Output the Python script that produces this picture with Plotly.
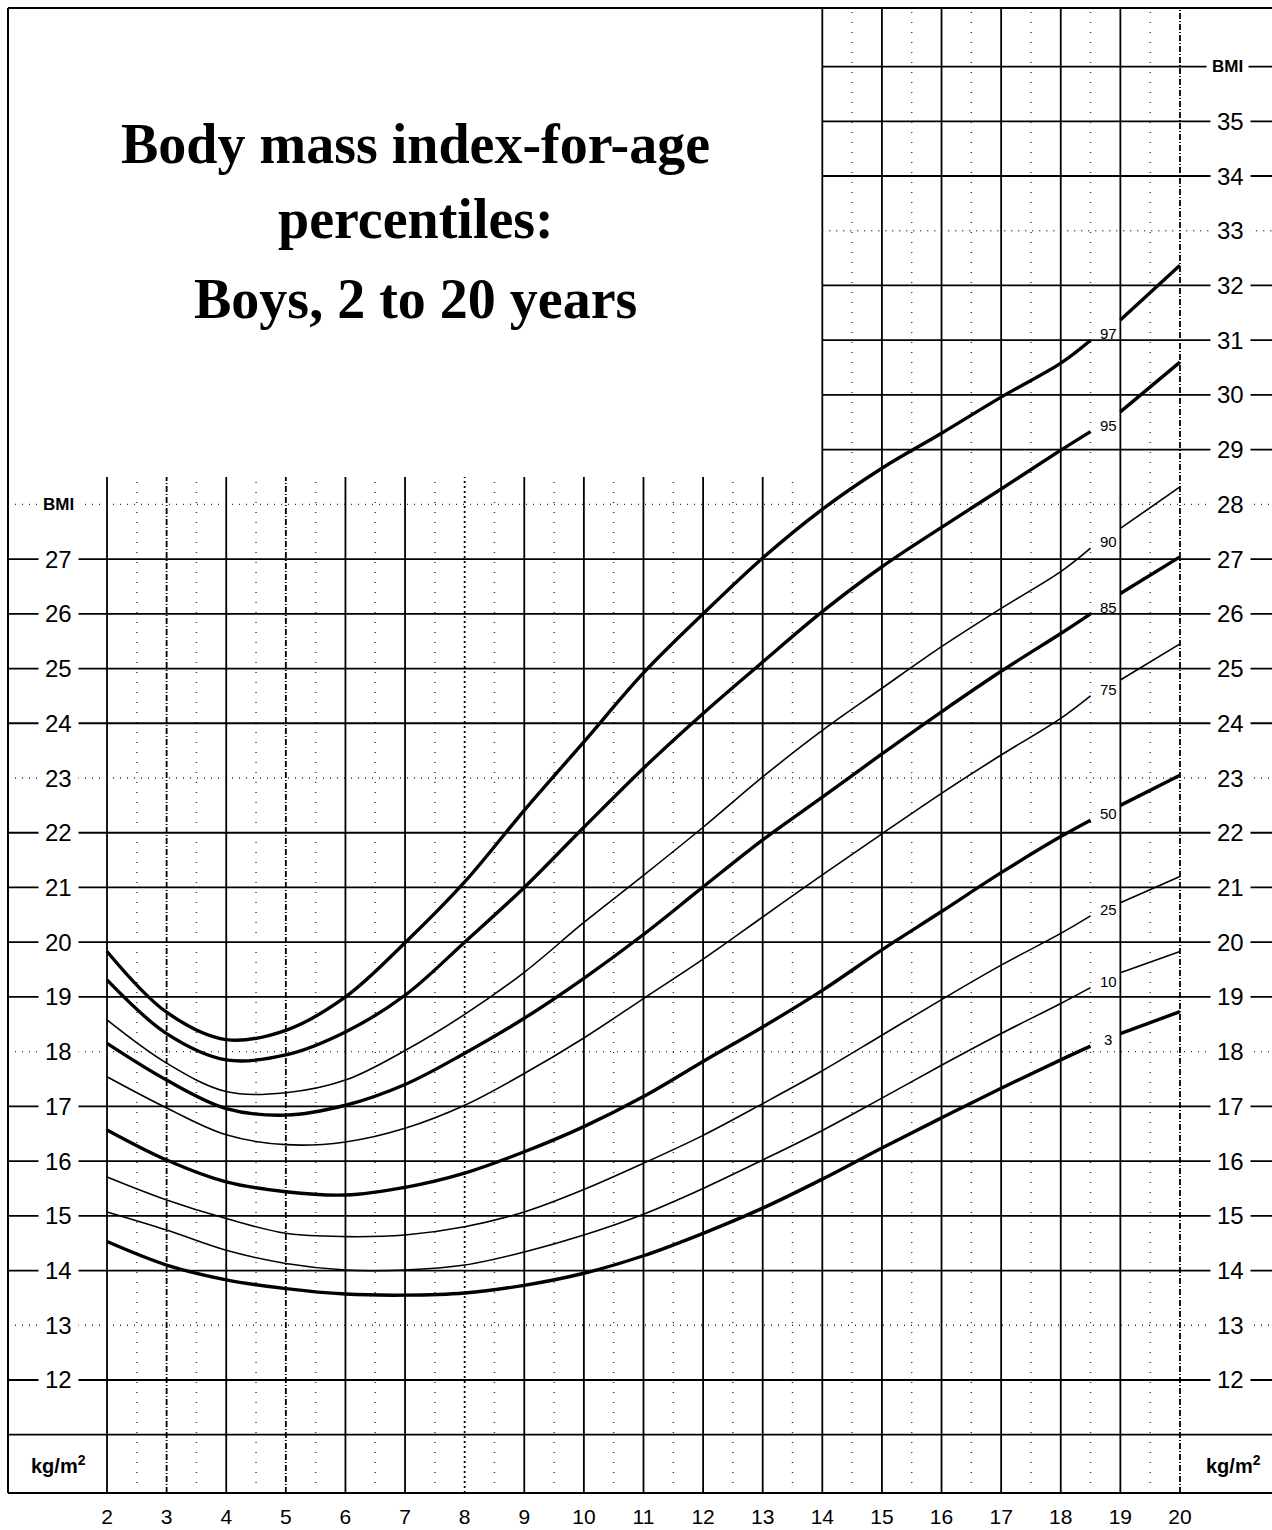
import plotly.graph_objects as go

# ---------------- data ----------------
ages = [2, 3, 4, 5, 6, 7, 8, 9, 10, 11, 12, 13, 14, 15, 16, 17, 18, 18.5]
ages_tail = [19, 20]

p97 = [19.83, 18.72, 18.22, 18.39, 19.00, 19.99, 21.10, 22.41, 23.66, 24.92, 26.00, 27.02, 27.91, 28.66, 29.30, 29.96, 30.58, 31.00]
p97_tail = [31.37, 32.37]
p95 = [19.31, 18.33, 17.85, 17.94, 18.36, 19.03, 20.00, 21.00, 22.10, 23.18, 24.18, 25.12, 26.04, 26.86, 27.58, 28.28, 28.99, 29.33]
p95_tail = [29.69, 30.60]
p90 = [18.58, 17.79, 17.27, 17.25, 17.48, 18.02, 18.68, 19.45, 20.36, 21.22, 22.10, 23.02, 23.87, 24.64, 25.40, 26.10, 26.77, 27.20]
p90_tail = [27.56, 28.32]
p85 = [18.15, 17.48, 16.96, 16.84, 17.02, 17.40, 17.97, 18.61, 19.34, 20.14, 21.01, 21.87, 22.65, 23.44, 24.21, 24.95, 25.64, 26.00]
p85_tail = [26.37, 27.04]
p75 = [17.54, 16.97, 16.48, 16.30, 16.35, 16.60, 17.02, 17.60, 18.25, 18.97, 19.69, 20.46, 21.23, 21.98, 22.72, 23.42, 24.09, 24.50]
p75_tail = [24.79, 25.45]
p50 = [16.57, 16.02, 15.62, 15.44, 15.38, 15.52, 15.78, 16.17, 16.63, 17.18, 17.82, 18.45, 19.12, 19.86, 20.56, 21.27, 21.93, 22.23]
p50_tail = [22.50, 23.05]
p25 = [15.71, 15.29, 14.95, 14.68, 14.62, 14.65, 14.80, 15.07, 15.48, 15.96, 16.47, 17.05, 17.65, 18.30, 18.95, 19.58, 20.16, 20.48]
p25_tail = [20.72, 21.20]
p10 = [15.07, 14.74, 14.37, 14.13, 14.01, 14.01, 14.10, 14.34, 14.65, 15.03, 15.50, 16.02, 16.56, 17.15, 17.75, 18.33, 18.88, 19.17]
p10_tail = [19.44, 19.83]
p3 = [14.53, 14.10, 13.83, 13.67, 13.57, 13.55, 13.59, 13.73, 13.95, 14.27, 14.68, 15.14, 15.67, 16.24, 16.79, 17.33, 17.85, 18.10]
p3_tail = [18.33, 18.73]

percentile_labels = ["97", "95", "90", "85", "75", "50", "25", "10", "3"]
series_main = [p97, p95, p90, p85, p75, p50, p25, p10, p3]
series_tail = [p97_tail, p95_tail, p90_tail, p85_tail, p75_tail, p50_tail, p25_tail, p10_tail, p3_tail]
thick_labels = ["97", "95", "85", "50", "3"]

age_ticks = list(range(2, 21))
half_age_ticks = [a + 0.5 for a in range(2, 20)]
bmi_grid = list(range(11, 37))
bmi_left_labels = list(range(12, 28))
bmi_right_labels = list(range(12, 36))
dotted_bmi = [13, 18, 23, 28, 33]
dashed_ages = [3, 5, 20]
dotted_ages = [8]

title_lines = ["Body mass index-for-age", "percentiles:", "Boys, 2 to 20 years"]

# ---------------- layout geometry ----------------
X0, X1 = 0.339, 21.544
Y0, Y1 = 9.935, 37.07
BOX_AGE, BOX_BMI = 14, 28.5
LEFT_LABEL_X = 1.19
RIGHT_LABEL_X = 20.84
CURVE_LABEL_X = 18.8

fig = go.Figure()

shapes = []
# vertical half-year dotted lines
for a in half_age_ticks:
    top = Y1 if a > BOX_AGE else BOX_BMI
    shapes.append(dict(type="line", xref="x", yref="y", x0=a, x1=a, y0=Y0, y1=top,
                       line=dict(color="#333", width=1.4, dash="1px,9px"), layer="below"))
# vertical integer-age lines
for a in age_ticks:
    top = Y1 if a >= BOX_AGE else BOX_BMI
    if a in dashed_ages:
        dash = "6px,2px,1px,2px"
    elif a in dotted_ages:
        dash = "2px,3px"
    else:
        dash = "solid"
    shapes.append(dict(type="line", xref="x", yref="y", x0=a, x1=a, y0=Y0, y1=top,
                       line=dict(color="black", width=1.8, dash=dash), layer="below"))
# horizontal BMI lines
for b in bmi_grid:
    start = X0 if b <= BOX_BMI else BOX_AGE
    if b in dotted_bmi:
        ln = dict(color="#333", width=1.4, dash="1px,6px")
    else:
        ln = dict(color="black", width=1.8, dash="solid")
    shapes.append(dict(type="line", xref="x", yref="y", x0=start, x1=X1, y0=b, y1=b,
                       line=ln, layer="below"))
# outer frame (top, left, bottom)
frame = dict(color="black", width=2)
shapes.append(dict(type="line", xref="paper", yref="paper", x0=0, x1=1, y0=1, y1=1, line=frame))
shapes.append(dict(type="line", xref="paper", yref="paper", x0=0, x1=0, y0=0, y1=1, line=frame))
shapes.append(dict(type="line", xref="paper", yref="paper", x0=0, x1=1, y0=0, y1=0, line=frame))

# ---------------- percentile curves ----------------
for lab, main, tail in zip(percentile_labels, series_main, series_tail):
    w = 3.4 if lab in thick_labels else 1.6
    for xs, ys in ((ages, main), (ages_tail, tail)):
        fig.add_trace(go.Scatter(x=xs, y=ys, mode="lines",
                                 line=dict(color="black", width=w, shape="spline", smoothing=1.0),
                                 hoverinfo="skip", showlegend=False))

annotations = []
# curve labels
for lab, main in zip(percentile_labels, series_main):
    annotations.append(dict(x=CURVE_LABEL_X, y=main[-1] + 0.12, xref="x", yref="y",
                            text=lab, showarrow=False,
                            font=dict(family="Liberation Sans, Arial", size=15, color="black")))
# left axis labels
for b in bmi_left_labels:
    annotations.append(dict(x=LEFT_LABEL_X, y=b, xref="x", yref="y", text=str(b), showarrow=False,
                            bgcolor="white", borderpad=6,
                            font=dict(family="Liberation Sans, Arial", size=24, color="black")))
# right axis labels
for b in bmi_right_labels:
    annotations.append(dict(x=RIGHT_LABEL_X, y=b, xref="x", yref="y", text=str(b), showarrow=False,
                            bgcolor="white", borderpad=6,
                            font=dict(family="Liberation Sans, Arial", size=24, color="black")))
# BMI headers
annotations.append(dict(x=LEFT_LABEL_X, y=28, xref="x", yref="y", text="<b>BMI</b>", showarrow=False,
                        bgcolor="white", borderpad=5,
                        font=dict(family="Liberation Sans, Arial", size=17, color="black")))
annotations.append(dict(x=RIGHT_LABEL_X - 0.05, y=36, xref="x", yref="y", text="<b>BMI</b>", showarrow=False,
                        bgcolor="white", borderpad=5,
                        font=dict(family="Liberation Sans, Arial", size=17, color="black")))
# unit labels
annotations.append(dict(x=LEFT_LABEL_X, y=10.45, xref="x", yref="y", text="<b>kg/m<sup>2</sup></b>",
                        showarrow=False, font=dict(family="Liberation Sans, Arial", size=20, color="black")))
annotations.append(dict(x=RIGHT_LABEL_X + 0.05, y=10.45, xref="x", yref="y", text="<b>kg/m<sup>2</sup></b>",
                        showarrow=False, font=dict(family="Liberation Sans, Arial", size=20, color="black")))
# title
title_y = [34.58, 33.22, 31.76]
for t, ty in zip(title_lines, title_y):
    annotations.append(dict(x=7.18, y=ty, xref="x", yref="y", text="<b>" + t + "</b>", showarrow=False,
                            font=dict(family="Liberation Serif, Times New Roman, serif", size=56, color="black")))

fig.update_layout(
    width=1272, height=1530,
    margin=dict(l=8, r=0, t=8, b=37, pad=0),
    paper_bgcolor="white", plot_bgcolor="white",
    shapes=shapes, annotations=annotations, showlegend=False,
    xaxis=dict(range=[X0, X1], showgrid=False, zeroline=False, showline=False,
               tickmode="array", tickvals=age_ticks, ticktext=[str(a) for a in age_ticks],
               ticks="", ticklabelstandoff=9,
               tickfont=dict(family="Liberation Sans, Arial", size=21, color="black"),
               fixedrange=True),
    yaxis=dict(range=[Y0, Y1], showgrid=False, zeroline=False, showline=False,
               showticklabels=False, ticks="", fixedrange=True),
)

fig.write_html("out.html", config={"displayModeBar": False},
               post_script="document.body.style.margin='0px';")
